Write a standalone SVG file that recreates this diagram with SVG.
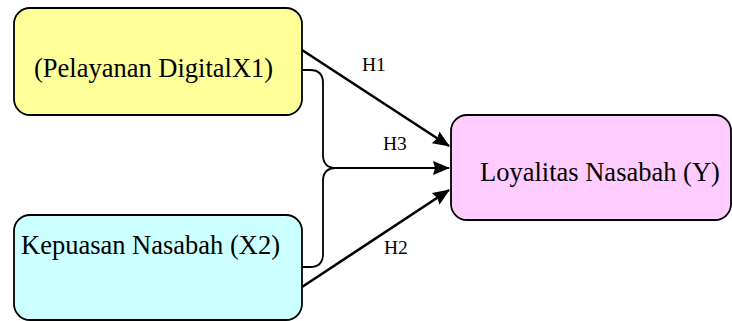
<svg xmlns="http://www.w3.org/2000/svg" width="732" height="321" viewBox="0 0 732 321">
<style>
.box{stroke:#000;stroke-width:1.8}
.t{font-family:"Liberation Serif","Times New Roman",serif;font-size:26.5px;fill:#000}
.lb{font-family:"Liberation Serif","Times New Roman",serif;font-size:19.5px;fill:#000}
.thick{fill:none;stroke:#000;stroke-width:2.6}
.thin{fill:none;stroke:#000;stroke-width:1.8}
</style>
<defs>
<marker id="ah" markerUnits="userSpaceOnUse" markerWidth="18" markerHeight="14" refX="16" refY="7" orient="auto">
<path d="M0,0 L17,7 L0,14 L2,7 z" fill="#000"/>
</marker>
</defs>
<rect width="732" height="321" fill="#fff"/>
<g id="connectors">
<line id="h1" class="thick" x1="302" y1="50" x2="449" y2="146" marker-end="url(#ah)"/>
<path id="h3a" class="thin" d="M302,70 L310,70 Q323,70 323,83 L323,155 Q323,168 336,168 L449,168" marker-end="url(#ah)"/>
<path id="h3b" class="thin" d="M302,267 L310,267 Q323,267 323,254 L323,181 Q323,168 336,168"/>
<line id="h2" class="thick" x1="302" y1="287" x2="449" y2="190" marker-end="url(#ah)"/>
<text class="lb" x="362" y="71">H1</text>
<text class="lb" x="383" y="150">H3</text>
<text class="lb" x="384" y="254">H2</text>
</g>
<g id="node-x1">
<rect class="box" x="14" y="8" width="288" height="107" rx="16" ry="16" fill="#ffff99"/>
<text class="t" x="34" y="77">(Pelayanan DigitalX1)</text>
</g>
<g id="node-x2">
<rect class="box" x="14" y="215" width="288" height="105" rx="16" ry="16" fill="#ccffff"/>
<text class="t" x="21" y="254">Kepuasan Nasabah (X2)</text>
</g>
<g id="node-y">
<rect class="box" x="451" y="115" width="280" height="105" rx="16" ry="16" fill="#ffccff"/>
<text class="t" x="480" y="181">Loyalitas Nasabah (Y)</text>
</g>
</svg>
